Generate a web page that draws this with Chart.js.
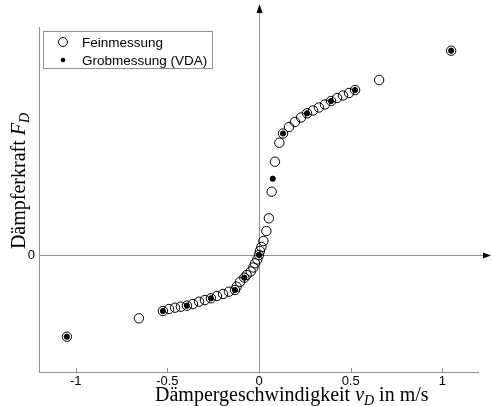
<!DOCTYPE html>
<html>
<head>
<meta charset="utf-8">
<script src="https://cdn.jsdelivr.net/npm/chart.js@4.4.1/dist/chart.umd.min.js"></script>
<style>
  html, body { margin: 0; padding: 0; background: #fff; }
</style>
</head>
<body>
<canvas id="chart" width="492" height="406"></canvas>
<script>
// Feinmessung: damper velocity (m/s) and force (no unit on the plot)
const fineV = [-1.048, -0.655, -0.524, -0.491, -0.458, -0.426, -0.393, -0.360, -0.327, -0.295,
  -0.262, -0.229, -0.196, -0.164, -0.131, -0.122, -0.104, -0.080, -0.067, -0.045,
  -0.031, -0.022, -0.009, 0, 0.005, 0.013, 0.024, 0.040, 0.054, 0.069,
  0.087, 0.111, 0.131, 0.164, 0.196, 0.229, 0.262, 0.295, 0.327, 0.360,
  0.393, 0.426, 0.458, 0.491, 0.524, 0.655, 1.048];
const fineF = [-0.817, -0.633, -0.560, -0.540, -0.527, -0.517, -0.507, -0.490, -0.467, -0.450,
  -0.433, -0.410, -0.390, -0.367, -0.350, -0.317, -0.270, -0.227, -0.200, -0.165,
  -0.125, -0.083, -0.045, 0, 0.040, 0.080, 0.140, 0.240, 0.367, 0.633,
  0.933, 1.123, 1.215, 1.280, 1.330, 1.375, 1.417, 1.445, 1.475, 1.505,
  1.540, 1.570, 1.595, 1.620, 1.650, 1.750, 2.043];

// Grobmessung (VDA)
const coarseV = [-1.048, -0.524, -0.393, -0.262, -0.131, -0.080, 0, 0.075, 0.131, 0.262, 0.393, 0.524, 1.048];
const coarseF = [-0.817, -0.560, -0.507, -0.433, -0.350, -0.227, 0, 0.763, 1.215, 1.417, 1.540, 1.650, 2.043];

const xTicks = [-1, -0.5, 0, 0.5, 1];
const yTicks = [0];

const toPoints = (xs, ys) => xs.map((x, i) => ({ x: x, y: ys[i] }));

// rich text: [{t, italic, sub}]
function richWidth(ctx, parts, size) {
  let w = 0;
  parts.forEach(p => {
    const s = p.sub ? size * 0.7 : size;
    ctx.font = (p.italic ? 'italic ' : '') + s + 'px "Liberation Serif"';
    w += ctx.measureText(p.t).width;
  });
  return w;
}
function drawRich(ctx, parts, x, y, size) {
  parts.forEach(p => {
    const s = p.sub ? size * 0.7 : size;
    ctx.font = (p.italic ? 'italic ' : '') + s + 'px "Liberation Serif"';
    ctx.fillText(p.t, x, p.sub ? y + size * 0.22 : y);
    x += ctx.measureText(p.t).width;
  });
}

const decor = {
  id: 'decor',
  beforeDatasetsDraw(chart) {
    const { ctx, chartArea: a, scales: { x, y } } = chart;
    const x0 = x.getPixelForValue(0);
    const y0 = y.getPixelForValue(0);
    ctx.save();
    ctx.strokeStyle = '#8f8f8f';
    ctx.lineWidth = 1;
    ctx.beginPath();
    // frame (left + bottom)
    ctx.moveTo(a.left + 0.5, a.top);
    ctx.lineTo(a.left + 0.5, a.bottom + 0.5);
    ctx.lineTo(a.right, a.bottom + 0.5);
    // zero lines
    ctx.moveTo(a.left, Math.round(y0) + 0.5);
    ctx.lineTo(a.right + 6, Math.round(y0) + 0.5);
    ctx.moveTo(Math.round(x0) + 0.5, a.bottom);
    ctx.lineTo(Math.round(x0) + 0.5, 12);
    // inward tick marks
    xTicks.forEach(v => {
      const px = Math.round(x.getPixelForValue(v)) + 0.5;
      ctx.moveTo(px, a.bottom);
      ctx.lineTo(px, a.bottom - 4);
    });
    ctx.stroke();
    // arrow heads
    ctx.fillStyle = '#000';
    ctx.beginPath();
    ctx.moveTo(a.right + 12, Math.round(y0) + 0.5);
    ctx.lineTo(a.right + 4, Math.round(y0) - 2.5);
    ctx.lineTo(a.right + 4, Math.round(y0) + 3.5);
    ctx.closePath();
    ctx.fill();
    ctx.beginPath();
    ctx.moveTo(Math.round(x0) + 0.5, 4);
    ctx.lineTo(Math.round(x0) - 2.5, 13);
    ctx.lineTo(Math.round(x0) + 3.5, 13);
    ctx.closePath();
    ctx.fill();
    ctx.restore();
  },
  afterDraw(chart) {
    const { ctx } = chart;
    ctx.save();
    ctx.fillStyle = '#000';
    ctx.textBaseline = 'alphabetic';
    ctx.textAlign = 'left';

    // x axis title
    const xt = [{ t: 'Dämpergeschwindigkeit ' }, { t: 'v', italic: true }, { t: 'D', italic: true, sub: true }, { t: ' in m/s' }];
    drawRich(ctx, xt, 155, 401, 20);

    // y axis title
    const yt = [{ t: 'Dämpferkraft ' }, { t: 'F', italic: true }, { t: 'D', italic: true, sub: true }];
    const w = richWidth(ctx, yt, 20);
    ctx.save();
    ctx.translate(25, 181);
    ctx.rotate(-Math.PI / 2);
    drawRich(ctx, yt, -w / 2, 0, 20);
    ctx.restore();

    // legend
    const lx = 43.5, ly = 31.5, lw = 169, lh = 37;
    ctx.fillStyle = '#fff';
    ctx.fillRect(lx, ly, lw, lh);
    ctx.strokeStyle = '#8f8f8f';
    ctx.lineWidth = 1;
    ctx.strokeRect(lx, ly, lw, lh);
    ctx.font = '13.5px "Liberation Sans"';
    ctx.textBaseline = 'middle';
    chart.data.datasets.forEach((ds, i) => {
      const cy = ly + 10.5 + i * 18;
      ctx.beginPath();
      ctx.arc(63, cy, ds.legendRadius, 0, Math.PI * 2);
      if (ds.legendFill) {
        ctx.fillStyle = '#000';
        ctx.fill();
      } else {
        ctx.strokeStyle = '#000';
        ctx.stroke();
      }
      ctx.fillStyle = '#000';
      ctx.fillText(ds.label, 82, cy + 1);
    });
    ctx.restore();
  }
};

new Chart(document.getElementById('chart'), {
  type: 'scatter',
  data: {
    datasets: [{
      label: 'Feinmessung',
      data: toPoints(fineV, fineF),
      pointRadius: 4.7,
      pointBorderWidth: 1,
      pointBorderColor: '#000',
      pointBackgroundColor: 'rgba(0,0,0,0)',
      legendRadius: 4.5,
      legendFill: false,
      order: 1
    }, {
      label: 'Grobmessung (VDA)',
      data: toPoints(coarseV, coarseF),
      pointRadius: 2.6,
      pointBorderWidth: 1,
      pointBorderColor: '#000',
      pointBackgroundColor: '#000',
      legendRadius: 2.3,
      legendFill: true,
      order: 0
    }]
  },
  options: {
    responsive: false,
    animation: false,
    layout: { padding: { top: 27, right: 13, left: 0, bottom: 0 } },
    plugins: {
      legend: { display: false },
      tooltip: { enabled: false }
    },
    scales: {
      x: {
        type: 'linear',
        min: -1.2,
        max: 1.2,
        afterBuildTicks: s => { s.ticks = xTicks.map(v => ({ value: v })); },
        afterFit: s => { s.height = 34; },
        grid: { display: false, drawTicks: false },
        border: { display: false },
        ticks: {
          color: '#000',
          padding: 2,
          maxRotation: 0,
          font: { family: 'Liberation Sans', size: 13 },
          callback: v => String(v)
        }
      },
      y: {
        type: 'linear',
        min: -1.17,
        max: 2.28,
        afterBuildTicks: s => { s.ticks = yTicks.map(v => ({ value: v })); },
        afterFit: s => { s.width = 39; },
        grid: { display: false, drawTicks: false },
        border: { display: false },
        ticks: {
          color: '#000',
          padding: 4,
          font: { family: 'Liberation Sans', size: 13 },
          callback: v => String(v)
        }
      }
    }
  },
  plugins: [decor]
});
</script>
</body>
</html>
